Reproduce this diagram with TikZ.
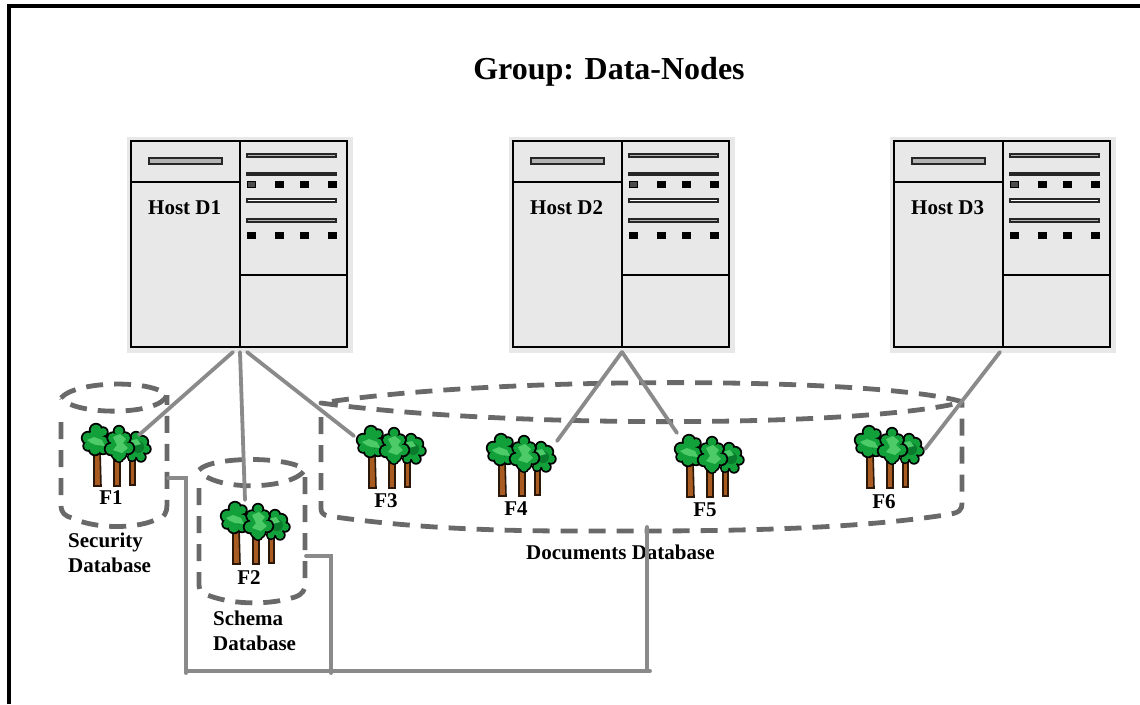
\documentclass[tikz,border=0pt]{standalone}
\usepackage{fontspec}
\setmainfont{Liberation Serif}
\definecolor{dashc}{HTML}{696969}
\definecolor{linec}{HTML}{8A8A8A}
\definecolor{hostbg}{HTML}{E8E8E8}
\definecolor{leafa}{HTML}{12A03A}
\definecolor{leafd}{HTML}{0A7A2C}
\definecolor{leafb}{HTML}{4CCB68}
\definecolor{barkc}{HTML}{A85C22}
\newcommand{\blobs}[1]{%
  \foreach \x/\y/\r in {#1} \fill[black] (\x,\y) circle[radius=\r+1.7];
  \foreach \x/\y/\r in {#1} \fill[leafa] (\x,\y) circle[radius=\r];
}
\tikzset{
  link/.style={draw=linec,line width=3.8pt,line cap=round,line join=miter},
  dbase/.style={draw=dashc,line width=4.8pt,dash pattern=on 17pt off 11pt,line join=round},
  lab/.style={font=\bfseries\fontsize{21}{25}\selectfont,text=black,inner sep=0pt,align=left},
  fl/.style={font=\bfseries\fontsize{21}{25}\selectfont,text=black,inner sep=0pt},
  hostline/.style={draw=black,line width=2.2pt},
  bar/.style={draw=black!85,line width=2pt,fill=#1},
  trunk/.style={draw=black!75!barkc,line width=1.6pt,fill=barkc},
  hi/.style={draw=none,fill=leafb},
  pics/tree/.style={code={
    \path[trunk] (12,25)--(18,25)--(19,61)--(12,61)--cycle;
    \path[trunk] (32,30)--(38,30)--(38,61)--(32,61)--cycle;
    \path[trunk] (48,30)--(53,30)--(53,60)--(48,60)--cycle;
    \blobs{54/12/4.5,49/20/6,60/17/5.5,64/24/4,55/25/7,50/32/3.5,59/32/4}
    \fill[leafd] (56,22) circle[radius=6];
    \fill[hi] (47,16) -- (55,14) -- (59,19) -- (52,21) -- cycle;
    \blobs{14/5/5.5,21/7/4,6/13/5.5,13/14/8,21/17/5.5,6/21/4,13/24/5.5,21/24/4.5}
    \fill[hi] (5,15) -- (12,12) -- (20,15) -- (23,21) -- (14,20) -- (9,18) -- cycle;
    \blobs{37/6/4.5,31/13/5,43/13/5,37/17/8,29/24/5.5,46/23/5.5,37/28/7,37/33/3.5}
    \fill[hi] (31,12) -- (38,9) -- (44,14) -- (41,18) -- (46,23) -- (40,28) -- (31,25) -- (35,20) -- cycle;
  }},
  pics/host/.style={code={
    \path[fill=hostbg] (-4,-4) rectangle (222,212);
    \path[hostline] (0,0) rectangle (216,206);
    \path[hostline] (109,0)--(109,206) (0,41)--(109,41) (109,134)--(216,134);
    \path[bar=black!30] (18,17) rectangle (91,23);
    \path[bar=black!30] (116,12.5) rectangle (205,15.5);
    \path[bar=black!55] (116,31.5) rectangle (205,33.5);
    \path[bar=white] (116,57.5) rectangle (205,60.5);
    \path[bar=black!30] (116,77.5) rectangle (205,80.5);
    \path[fill=black!70,draw=black,line width=1pt] (116.5,40.5) rectangle (124.5,46.5);
    \foreach \x in {144,169,197} \path[fill=black] (\x,40) rectangle +(8.5,7);
    \foreach \x in {116,144,169,197} \path[fill=black] (\x,91) rectangle +(8.5,7);
  }}
}
\begin{document}
\begin{tikzpicture}[x=1pt,y=-1pt]
\useasboundingbox (0,0) rectangle (1140,704);
\path[fill=white] (0,0) rectangle (1140,704);
\draw[black,line width=4pt] (9,704)--(9,6)--(1140,6);
\node[font=\bfseries\fontsize{32}{36}\selectfont,inner sep=0pt] (title) at (609,72) {Group: Data-Nodes};

\pic at (131,141) {host};
\pic at (513,141) {host};
\pic at (894,141) {host};
\node[lab,anchor=west] (d1) at (148,208) {Host D1};
\node[lab,anchor=west] (d2) at (530,208) {Host D2};
\node[lab,anchor=west] (d3) at (911,208) {Host D3};

% databases
\draw[dbase] (61,398) .. controls (75,381) and (150,379) .. (167,395) .. controls (160,416) and (75,416) .. (61,398);
\draw[dbase] (61,422)--(61,505) .. controls (61,513) and (65,516) .. (72,518) .. controls (95,529) and (135,529) .. (155,520) .. controls (165,518) and (167,512) .. (167,505) -- (167,395);
\draw[dbase] (199,470) .. controls (212,456) and (290,456) .. (305,470) .. controls (290,491) and (212,491) .. (199,470);
\draw[dbase] (199,488)--(199,584) .. controls (199,592) and (203,594) .. (210,596) .. controls (235,605) and (270,605) .. (295,597) .. controls (303,594) and (305,590) .. (305,584) -- (305,468);
\draw[dbase] (963,402) .. controls (880,377) and (500,375) .. (321,403) .. controls (500,428) and (860,428) .. (963,402);
\draw[dbase] (321,417)--(321,508) .. controls (321,516) and (327,516) .. (335,517) .. controls (450,533) and (560,531) .. (640,531) .. controls (750,531) and (860,528) .. (945,515) .. controls (960,513) and (962,510) .. (962,503) -- (962,402);

% trees
\pic at (82,425) {tree};
\pic at (221,503) {tree};
\pic at (357,427) {tree};
\pic at (487,435) {tree};
\pic at (675,436) {tree};
\pic at (855,427) {tree};

\node[fl] (f1) at (111,498) {F1};
\node[fl] (f2) at (249,578) {F2};
\node[fl] (f3) at (386,501) {F3};
\node[fl] (f4) at (516,509) {F4};
\node[fl] (f5) at (705,510) {F5};
\node[fl] (f6) at (884,502) {F6};
\node[lab,anchor=north west] (sec) at (68,533) {Security\\Database};
\node[lab,anchor=north west] (sch) at (213,611) {Schema\\Database};
\node[lab,anchor=west] (doc) at (526,552) {Documents Database};

% connector anchors
\coordinate (h1a) at (233,352);
\coordinate (h1b) at (240,352);
\coordinate (h1c) at (247,352);
\coordinate (h2a) at (622,352);
\coordinate (h2b) at (622,352);
\coordinate (h3a) at (1000,352);
\coordinate (t1) at (139,435);
\coordinate (t2) at (245,500);
\coordinate (t3) at (354,436);
\coordinate (t4) at (557,441);
\coordinate (t5) at (677,433);
\coordinate (t6) at (925,449);
\coordinate (s1) at (168,478);
\coordinate (s2) at (306,556);
\coordinate (s3) at (647,527);
\coordinate (b1) at (186,673);
\coordinate (b2) at (331,673);
\coordinate (b3) at (647,671);
\coordinate (b0) at (186,671);
\coordinate (b4) at (650,671);

\draw[link] (h1a)--(t1);
\draw[link] (h1b)--(t2);
\draw[link] (h1c)--(t3);
\draw[link] (h2a)--(t4);
\draw[link] (h2b)--(t5);
\draw[link] (h3a)--(t6);
\draw[link] (s1)-|(b1);
\draw[link] (b0)--(b4);
\draw[link] (b3)--(s3);
\draw[link] (s2)-|(b2);
\end{tikzpicture}
\end{document}
